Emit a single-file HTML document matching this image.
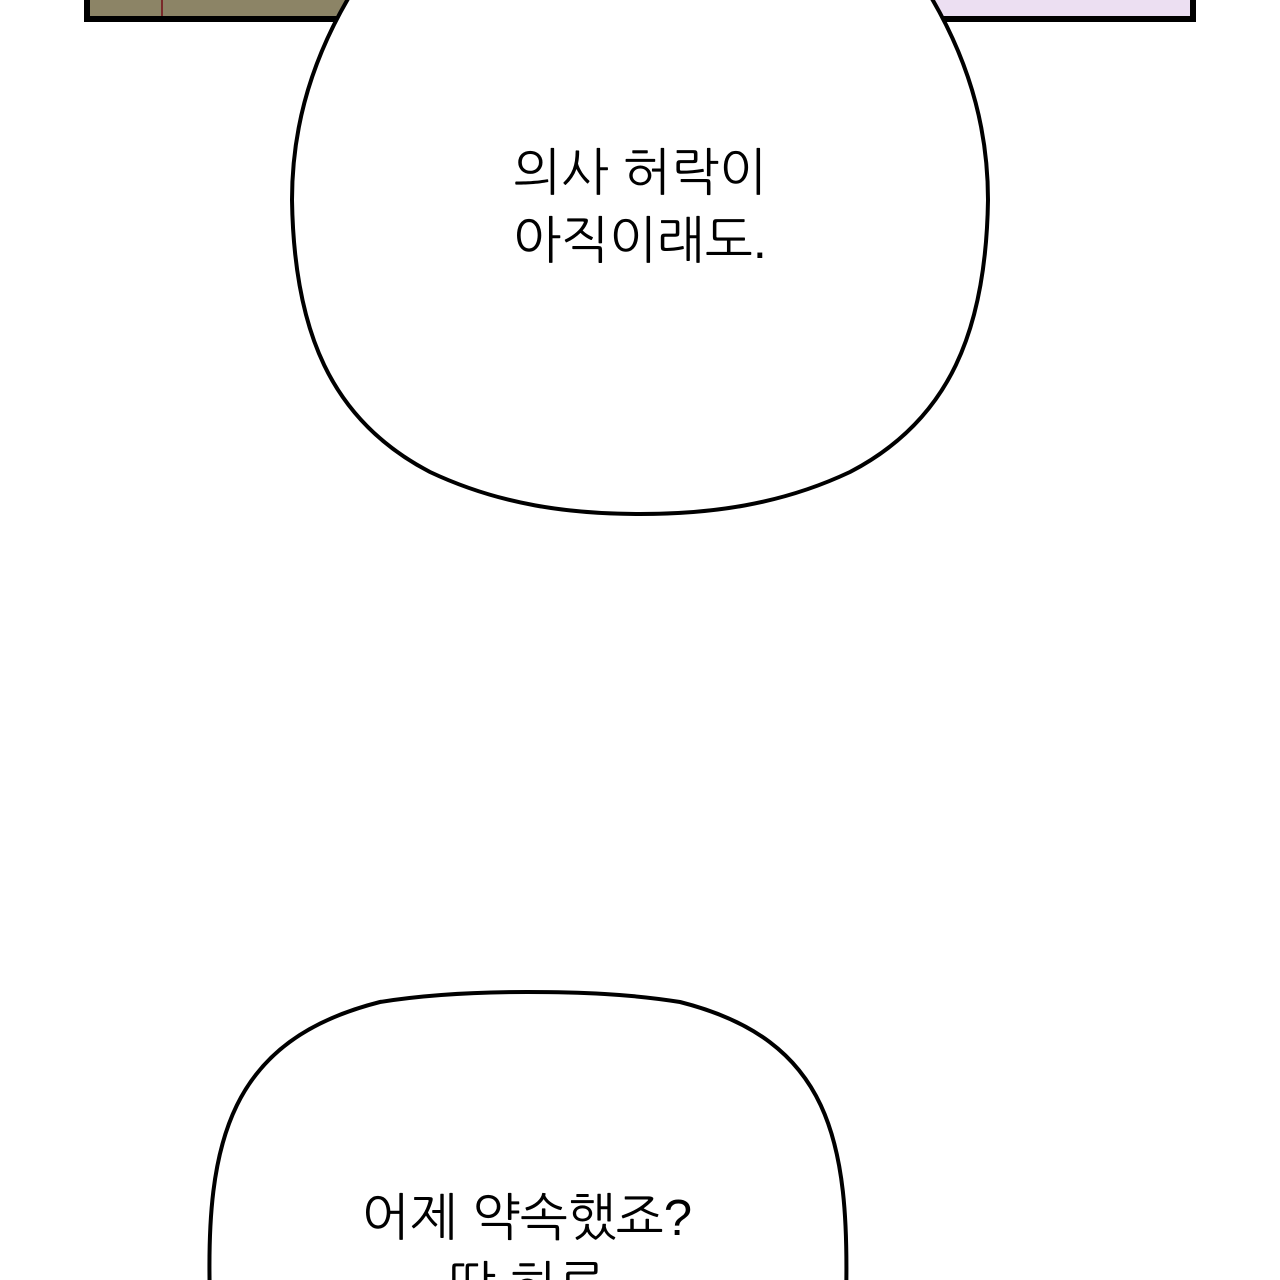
<!DOCTYPE html>
<html><head><meta charset="utf-8">
<style>
html,body{margin:0;padding:0;background:#fff;}
body{width:1280px;height:1280px;overflow:hidden;position:relative;}
svg{position:absolute;left:0;top:0;}
</style></head>
<body>
<svg width="1280" height="1280" viewBox="0 0 1280 1280" xmlns="http://www.w3.org/2000/svg">
  <rect x="0" y="0" width="1280" height="1280" fill="#fff"/>
  <rect x="84" y="-10" width="1112" height="32" fill="#000"/>
  <rect x="90" y="-10" width="560" height="26" fill="#8c8466"/>
  <rect x="650" y="-10" width="540" height="26" fill="#ecdff2"/>
  <line x1="162" y1="0" x2="162" y2="16" stroke="#7a2a2a" stroke-width="2"/>
  <path d="M 352 -8 C 305 70, 292 140, 292 200 C 294 330, 330 420, 430 472 C 500 505, 570 514, 640 514 C 710 514, 780 505, 850 472 C 950 420, 986 330, 988 200 C 988 140, 975 70, 928 -8 Z" fill="#fff" stroke="#000" stroke-width="4"/>
  <g font-family="'Liberation Sans','NanumGothic','Noto Sans CJK KR',sans-serif" font-size="51" fill="#000" text-anchor="middle">
    <text x="640" y="190">의사 허락이</text>
    <text x="640" y="258">아직이래도.</text>
  </g>
  <path d="M 210 1300 C 205 1140, 230 1040, 380 1002 C 430 994, 480 992, 527 992 C 580 992, 630 994, 680 1002 C 830 1040, 850 1140, 846 1300" fill="#fff" stroke="#000" stroke-width="4"/>
  <g font-family="'Liberation Sans','NanumGothic','Noto Sans CJK KR',sans-serif" font-size="51" fill="#000" text-anchor="middle">
    <text x="527" y="1235">어제 약속했죠?</text>
    <text x="527" y="1303">딱 하루</text>
  </g>
</svg>
</body></html>
